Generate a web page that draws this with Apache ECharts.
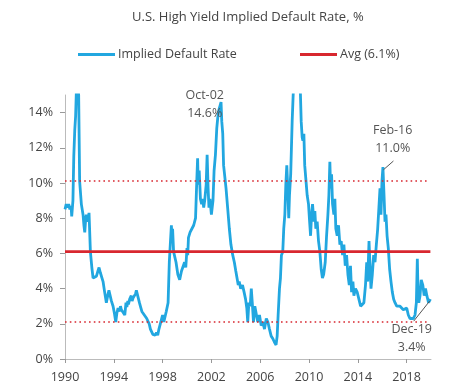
<!DOCTYPE html>
<html>
<head>
<meta charset="utf-8">
<script src="https://cdn.jsdelivr.net/npm/echarts@6/dist/echarts.min.js"></script>
<style>
html,body{margin:0;padding:0;background:#fff;}
#chart{width:449px;height:390px;}
</style>
</head>
<body>
<div id="chart"></div>
<script>
// ---- data (decimal years, % implied default rate) ----
var years = [
 1990.00,1990.10,1990.20,1990.30,1990.40,1990.50,1990.55,1990.65,1990.72,1990.80,1990.87,1990.93,1990.98,1991.05,1991.12,1991.20,1991.34,1991.48,1991.55,1991.62,1991.70,1991.75,1991.85,1991.97,
 1992.08,1992.20,1992.30,1992.45,1992.57,1992.70,1992.79,1992.90,1992.98,1993.12,1993.25,1993.39,1993.50,1993.60,1993.67,1993.80,1993.94,1994.05,1994.16,1994.25,1994.35,1994.45,1994.55,1994.62,1994.75,1994.90,
 1995.00,1995.07,1995.15,1995.20,1995.30,1995.43,1995.50,1995.60,1995.70,1995.78,1995.85,1995.95,1996.10,1996.20,1996.30,1996.40,1996.50,1996.60,1996.70,1996.80,1996.90,
 1997.00,1997.10,1997.20,1997.30,1997.40,1997.50,1997.60,1997.70,1997.85,1998.00,1998.10,1998.20,1998.30,1998.45,1998.55,1998.63,1998.72,1998.77,1998.82,1998.90,
 1999.00,1999.10,1999.25,1999.40,1999.55,1999.70,1999.80,1999.90,2000.00,2000.06,2000.12,2000.25,2000.40,2000.55,2000.70,2000.80,2000.87,2000.92,
 2001.00,2001.10,2001.20,2001.28,2001.37,2001.45,2001.57,2001.65,2001.73,2001.80,2001.88,2002.00,2002.13,2002.22,2002.33,2002.44,2002.52,2002.63,2002.79,2002.85,2002.93,
 2003.00,2003.10,2003.20,2003.33,2003.47,2003.60,2003.75,2003.88,2004.00,2004.10,2004.20,2004.28,2004.40,2004.55,2004.68,2004.80,2004.90,2004.98,
 2005.07,2005.18,2005.27,2005.35,2005.45,2005.56,2005.67,2005.80,2005.94,2006.08,2006.22,2006.35,2006.50,2006.63,2006.76,2006.90,
 2007.04,2007.17,2007.30,2007.39,2007.47,2007.58,2007.66,2007.74,2007.85,2007.93,2008.02,2008.10,2008.18,2008.26,2008.34,2008.40,2008.50,2008.62,2008.73,2008.85,2008.95,
 2009.10,2009.20,2009.28,2009.36,2009.44,2009.50,2009.58,2009.65,2009.75,2009.85,2009.96,2010.05,2010.13,2010.21,2010.29,2010.40,2010.48,2010.56,2010.67,2010.78,2010.89,
 2011.00,2011.10,2011.20,2011.33,2011.44,2011.55,2011.63,2011.71,2011.77,2011.85,2011.93,2012.04,2012.12,2012.20,2012.31,2012.42,2012.53,2012.64,2012.75,2012.86,2012.97,
 2013.08,2013.19,2013.30,2013.40,2013.49,2013.60,2013.68,2013.81,2013.95,2014.09,2014.23,2014.36,2014.50,2014.63,2014.73,2014.81,2014.92,
 2015.00,2015.08,2015.19,2015.30,2015.41,2015.52,2015.63,2015.73,2015.82,2015.90,2015.98,2016.06,2016.12,2016.15,2016.23,2016.31,2016.40,2016.50,2016.61,2016.72,2016.83,2016.94,
 2017.05,2017.19,2017.33,2017.46,2017.60,2017.73,2017.87,2018.01,2018.14,2018.28,2018.42,2018.55,2018.69,2018.80,2018.88,2018.93,
 2019.00,2019.10,2019.20,2019.33,2019.44,2019.55,2019.66,2019.80,2019.95
];
var rates = [
 8.5,8.8,8.6,8.8,8.5,8.7,8.1,9.0,11.5,13.0,13.8,15.2,15.8,15.5,15.0,10.1,8.8,8.2,7.6,7.2,8.0,8.2,7.8,8.3,
 6.1,5.2,4.6,4.7,4.7,5.0,5.2,4.9,5.0,4.4,3.8,3.2,3.6,3.9,3.8,3.3,3.0,2.6,2.1,2.6,2.9,2.7,3.0,2.8,2.9,2.5,
 3.2,2.95,3.3,3.1,3.4,3.6,3.3,3.5,3.4,3.7,3.9,3.8,3.2,2.95,2.7,2.8,2.5,2.6,2.3,2.4,2.0,
 1.7,1.6,1.4,1.5,1.35,1.5,1.35,1.7,2.1,2.5,2.1,2.4,2.7,3.2,5.5,6.5,7.6,6.9,7.4,6.1,
 6.0,5.5,4.8,4.5,5.0,5.3,5.5,5.2,6.3,5.9,6.9,7.2,7.4,7.6,8.0,10.1,11.4,9.9,
 10.7,9.1,8.8,9.1,8.6,9.0,9.9,11.6,9.7,8.6,9.1,8.2,9.0,10.7,11.6,13.1,13.7,14.2,14.6,13.5,12.8,
 11.0,11.0,9.7,8.6,7.4,6.5,5.9,5.5,5.0,4.6,4.2,4.4,4.0,4.2,3.8,3.4,2.9,2.1,
 3.2,3.0,4.0,3.2,2.1,3.0,2.9,2.1,2.5,1.9,2.1,1.7,2.3,2.1,1.7,1.3,
 1.15,0.95,0.8,1.3,2.5,4.0,4.6,5.9,6.1,7.4,8.2,9.9,11.0,9.7,8.0,9.3,10.5,13.5,15.5,22.0,28.0,
 25.0,19.0,15.5,13.5,12.6,12.4,12.8,11.0,11.0,9.3,8.8,7.8,7.0,8.2,8.8,7.8,8.4,7.4,7.8,6.7,6.1,
 5.1,4.6,4.8,5.5,7.0,8.2,9.3,11.2,9.7,10.5,8.8,8.2,9.1,7.4,7.0,7.6,6.5,6.7,5.9,6.5,5.3,
 5.9,4.8,4.2,5.3,3.8,4.4,3.6,4.0,3.8,3.4,3.0,2.9,3.2,4.2,5.5,4.4,6.7,
 5.3,4.0,4.8,5.9,5.5,6.5,7.4,8.6,9.7,8.2,10.1,10.9,11.0,9.3,7.8,8.2,7.0,6.3,5.1,4.4,3.8,3.4,
 3.2,3.0,2.9,3.0,2.9,2.8,2.7,2.9,2.5,2.3,2.2,2.3,2.5,3.2,5.7,4.0,
 3.2,3.6,4.5,4.2,3.6,4.0,3.6,3.2,3.4
];
var avgYears = [1990, 2019.95];
var avgValues = [6.1, 6.1];
var bandValues = [10.1, 2.1];            // avg +/- 1 sd (dotted lines)
var xTickLabels = [1990, 1994, 1998, 2002, 2006, 2010, 2014, 2018];
var yTickLabels = [0, 2, 4, 6, 8, 10, 12, 14];
var annTexts = ['Oct-02\n14.6%', 'Feb-16\n11.0%', 'Dec-19\n3.4%'];
var annX = [2001.45, 2016.86, 2018.42];
var annY = [14.49, 12.5, 1.14];
var leaderFrom = [[2016.1, 10.75], [2018.58, 2.15]];
var leaderTo = [[2016.92, 11.25], [2019.9, 3.3]];

var font = '"Open Sans", "DejaVu Sans", sans-serif';
var BLUE = '#22a7e0';
var RED = '#d8272f';

var lineData = years.map(function (y, i) { return [y, rates[i]]; });
var avgData = avgYears.map(function (y, i) { return [y, avgValues[i]]; });

var chart = echarts.init(document.getElementById('chart'), null, {renderer: 'canvas'});
chart.setOption({
  animation: false,
  backgroundColor: '#fff',
  textStyle: {fontFamily: font},
  title: {
    text: 'U.S. High Yield Implied Default Rate, %',
    left: 127, top: 6,
    textStyle: {fontFamily: font, fontSize: 13, fontWeight: 'normal', color: '#444'}
  },
  legend: [
    {data: [{name: 'Implied Default Rate', icon: 'rect'}], left: 73, top: 43, itemWidth: 37, itemHeight: 3, itemGap: 3,
     textStyle: {fontFamily: font, fontSize: 12.5, color: '#444', padding: [0, 0, 0, -2]}},
    {data: [{name: 'Avg (6.1%)', icon: 'rect'}], left: 295, top: 43, itemWidth: 37, itemHeight: 3, itemGap: 3,
     textStyle: {fontFamily: font, fontSize: 12.5, color: '#444', padding: [0, 0, 0, -2]}}
  ],
  grid: {left: 65, right: 18, top: 95, bottom: 31, containLabel: false},
  xAxis: {
    type: 'value', min: 1990, max: 2020,
    axisLine: {show: true, lineStyle: {color: '#bbb', width: 1}},
    axisTick: {show: true, length: 4, lineStyle: {color: '#999'}, customValues: xTickLabels},
    axisLabel: {customValues: xTickLabels, formatter: function (v) { return String(v); },
                fontFamily: font, fontSize: 12.5, color: '#444', margin: 12},
    splitLine: {show: false}
  },
  yAxis: {
    type: 'value', min: 0, max: 15,
    axisLine: {show: true, lineStyle: {color: '#bbb', width: 1}},
    axisTick: {show: true, length: 5, lineStyle: {color: '#999'}, customValues: yTickLabels},
    axisLabel: {customValues: yTickLabels, formatter: '{value}%',
                fontFamily: font, fontSize: 12.5, color: '#444', margin: 12},
    splitLine: {show: false}
  },
  series: [
    {
      name: 'Implied Default Rate', type: 'line', data: lineData,
      showSymbol: false, symbol: 'none', clip: true,
      lineStyle: {color: BLUE, width: 2.8},
      itemStyle: {color: BLUE},
      z: 3,
      markPoint: {
        symbol: 'circle', symbolSize: 0, silent: true,
        label: {show: true, position: 'inside', formatter: function (p) { return p.name; },
                fontFamily: font, fontSize: 12.5, color: '#555', lineHeight: 18},
        data: annTexts.map(function (t, i) { return {name: t, coord: [annX[i], annY[i]]}; })
      },
      markLine: {
        symbol: 'none', silent: true, label: {show: false},
        lineStyle: {color: '#555', width: 1, type: 'solid'},
        data: leaderFrom.map(function (f, i) { return [{coord: f}, {coord: leaderTo[i]}]; })
      }
    },
    {
      name: 'Avg (6.1%)', type: 'line', data: avgData,
      showSymbol: false, symbol: 'none',
      lineStyle: {color: RED, width: 2.6},
      itemStyle: {color: RED},
      z: 4,
      markLine: {
        symbol: 'none', silent: true, label: {show: false},
        lineStyle: {color: RED, width: 1.6, type: [1.6, 3.2]},
        data: bandValues.map(function (v) { return [{coord: [avgYears[0], v]}, {coord: [2019.75, v]}]; })
      }
    }
  ]
});
</script>
</body>
</html>
